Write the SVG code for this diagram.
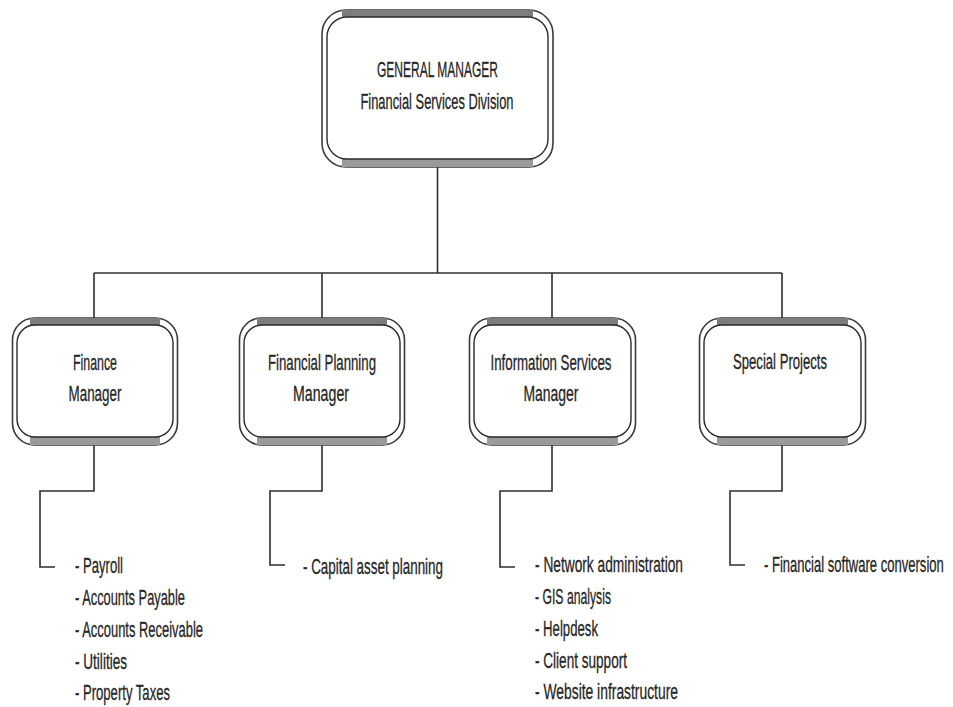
<svg xmlns="http://www.w3.org/2000/svg" width="953" height="707" viewBox="0 0 953 707">
  <style>
    .outer { fill: #ffffff; stroke: #3a3a3a; stroke-width: 1.6; }
    .inner { fill: #ffffff; stroke: #2a2a2a; stroke-width: 1.4; }
    .band-top { fill: #7d7d7d; }
    .band-bot { fill: #9a9a9a; }
    .wire { fill: none; stroke: #2e2e2e; stroke-width: 1.6; }
    .lbl { font-family: "Liberation Sans", Arial, sans-serif; font-size: 22px; fill: #262626; stroke: #262626; stroke-width: 0.3; }
    .mid { text-anchor: middle; }
  </style>

  <rect width="953" height="707" fill="#ffffff"/>

  <!-- connectors -->
  <g id="connectors">
    <path class="wire" d="M437.5 167 V273"/>
    <path class="wire" d="M94 273 H782"/>
    <path class="wire" d="M94 273 V318 M322 273 V318 M552 273 V318 M782 273 V318"/>
    <path class="wire" d="M94 445 V491 H40 V567 H55"/>
    <path class="wire" d="M322 445 V491 H270 V565 H285"/>
    <path class="wire" d="M552 445 V491 H500 V567 H515"/>
    <path class="wire" d="M782 445 V491 H730 V565 H745"/>
  </g>

  <!-- general manager -->
  <g id="general-manager">
    <rect class="outer" x="322" y="10" width="231" height="157" rx="24"/>
    <rect class="band-top" x="342" y="10" width="191" height="7"/>
    <rect class="band-bot" x="342" y="159" width="191" height="8"/>
    <rect class="inner" x="327" y="17" width="221" height="142" rx="20"/>
    <text class="lbl mid" x="437.5" y="77" textLength="121" lengthAdjust="spacingAndGlyphs">GENERAL MANAGER</text>
    <text class="lbl mid" x="437" y="109" textLength="153" lengthAdjust="spacingAndGlyphs">Financial Services Division</text>
  </g>

  <!-- finance manager -->
  <g id="finance-manager">
    <rect class="outer" x="12.5" y="318" width="165" height="127" rx="22"/>
    <rect class="band-top" x="30" y="318" width="130" height="7"/>
    <rect class="band-bot" x="30" y="437" width="130" height="8"/>
    <rect class="inner" x="17" y="325" width="156" height="112" rx="18"/>
    <text class="lbl mid" x="95" y="370" textLength="44" lengthAdjust="spacingAndGlyphs">Finance</text>
    <text class="lbl mid" x="95" y="401" textLength="53" lengthAdjust="spacingAndGlyphs">Manager</text>
  </g>

  <!-- financial planning manager -->
  <g id="financial-planning-manager">
    <rect class="outer" x="239.5" y="318" width="165" height="127" rx="22"/>
    <rect class="band-top" x="257" y="318" width="130" height="7"/>
    <rect class="band-bot" x="257" y="437" width="130" height="8"/>
    <rect class="inner" x="244" y="325" width="156" height="112" rx="18"/>
    <text class="lbl mid" x="322" y="370" textLength="108" lengthAdjust="spacingAndGlyphs">Financial Planning</text>
    <text class="lbl mid" x="321" y="401" textLength="56" lengthAdjust="spacingAndGlyphs">Manager</text>
  </g>

  <!-- information services manager -->
  <g id="information-services-manager">
    <rect class="outer" x="469.5" y="318" width="166" height="127" rx="22"/>
    <rect class="band-top" x="487" y="318" width="131" height="7"/>
    <rect class="band-bot" x="487" y="437" width="131" height="8"/>
    <rect class="inner" x="474" y="325" width="157" height="112" rx="18"/>
    <text class="lbl mid" x="551" y="370" textLength="121" lengthAdjust="spacingAndGlyphs">Information Services</text>
    <text class="lbl mid" x="551" y="401" textLength="55" lengthAdjust="spacingAndGlyphs">Manager</text>
  </g>

  <!-- special projects -->
  <g id="special-projects">
    <rect class="outer" x="699.5" y="318" width="166" height="127" rx="22"/>
    <rect class="band-top" x="717" y="318" width="131" height="7"/>
    <rect class="band-bot" x="717" y="437" width="131" height="8"/>
    <rect class="inner" x="704" y="325" width="157" height="112" rx="18"/>
    <text class="lbl mid" x="780" y="369" textLength="94" lengthAdjust="spacingAndGlyphs">Special Projects</text>
  </g>

  <!-- duty lists -->
  <g id="finance-duties" class="lbl">
    <text x="75" y="573" textLength="48" lengthAdjust="spacingAndGlyphs">- Payroll</text>
    <text x="75" y="605" textLength="110" lengthAdjust="spacingAndGlyphs">- Accounts Payable</text>
    <text x="75" y="637" textLength="128" lengthAdjust="spacingAndGlyphs">- Accounts Receivable</text>
    <text x="75" y="669" textLength="52" lengthAdjust="spacingAndGlyphs">- Utilities</text>
    <text x="75" y="700" textLength="95" lengthAdjust="spacingAndGlyphs">- Property Taxes</text>
  </g>

  <g id="planning-duties" class="lbl">
    <text x="303" y="574" textLength="140" lengthAdjust="spacingAndGlyphs">- Capital asset planning</text>
  </g>

  <g id="information-duties" class="lbl">
    <text x="535" y="572" textLength="148" lengthAdjust="spacingAndGlyphs">- Network administration</text>
    <text x="535" y="604" textLength="76" lengthAdjust="spacingAndGlyphs">- GIS analysis</text>
    <text x="535" y="636" textLength="63" lengthAdjust="spacingAndGlyphs">- Helpdesk</text>
    <text x="535" y="668" textLength="92" lengthAdjust="spacingAndGlyphs">- Client support</text>
    <text x="535" y="699" textLength="143" lengthAdjust="spacingAndGlyphs">- Website infrastructure</text>
  </g>

  <g id="special-duties" class="lbl">
    <!-- condensed horizontally so the line fits beside the right edge -->
    <text transform="translate(764 572) scale(0.58 1)" x="0" y="0" textLength="310" lengthAdjust="spacingAndGlyphs">- Financial software conversion</text>
  </g>
</svg>
